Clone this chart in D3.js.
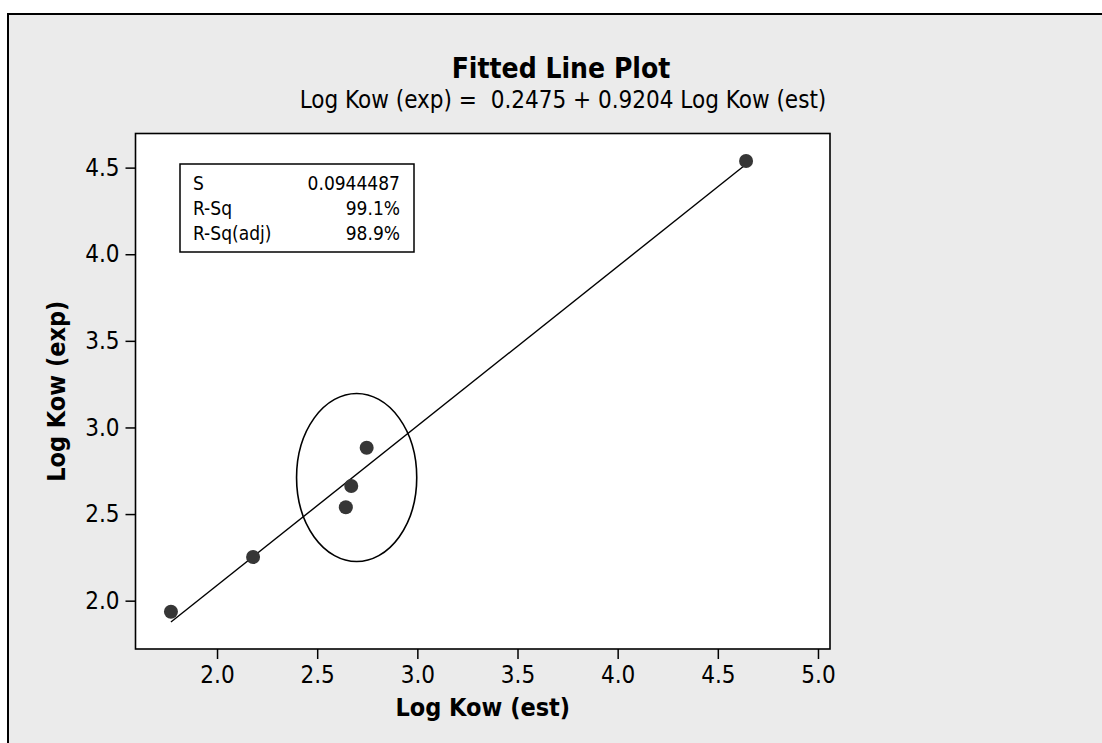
<!DOCTYPE html>
<html>
<head>
<meta charset="utf-8">
<script src="https://cdn.jsdelivr.net/npm/d3@7"></script>
<style>
  html, body { margin: 0; padding: 0; background: #fff; }
  svg { display: block; font-family: "Tahoma", "DejaVu Sans Condensed", "DejaVu Sans", sans-serif; }
</style>
</head>
<body>
<div id="chart_div"></div>
<script>
// data
var xEst = [1.77, 2.18, 2.643, 2.670, 2.747, 4.641];
var yExp = [1.936, 2.252, 2.539, 2.662, 2.883, 4.538];
var xTicks = [2.0, 2.5, 3.0, 3.5, 4.0, 4.5, 5.0];
var yTicks = [2.0, 2.5, 3.0, 3.5, 4.0, 4.5];
var fitIntercept = 0.2475;
var fitSlope = 0.9204;
var statLabels = ["S", "R-Sq", "R-Sq(adj)"];
var statValues = ["0.0944487", "99.1%", "98.9%"];
// circled group (centre and radii in data units)
var ringCentre = [2.697, 2.711];
var ringRadius = [0.3, 0.485];

var width = 1102, height = 743;

var svg = d3.select("#chart_div")
    .append("svg")
    .attr("width", width)
    .attr("height", height)
    .attr("viewBox", [0, 0, width, height]);

// gray panel with border
svg.append("rect")
    .attr("x", 8).attr("y", 14)
    .attr("width", width + 20).attr("height", height + 20)
    .attr("fill", "#ebebeb")
    .attr("stroke", "#000")
    .attr("stroke-width", 2);

// plot region
var x = d3.scaleLinear().domain([1.593, 5.06]).range([135.5, 830]);
var y = d3.scaleLinear().domain([1.721, 4.697]).range([649, 133.5]);

svg.append("rect")
    .attr("x", x.range()[0]).attr("y", y.range()[1])
    .attr("width", x.range()[1] - x.range()[0])
    .attr("height", y.range()[0] - y.range()[1])
    .attr("fill", "#fff")
    .attr("stroke", "#000")
    .attr("stroke-width", 1.6);

// axes
var fmt = d3.format(".1f");

function styleAxis(g) {
    g.attr("font-family", null).attr("font-size", null);
    g.select(".domain").remove();
    g.selectAll(".tick line").attr("stroke-width", 1.5);
    g.selectAll(".tick text").attr("fill", "#000").style("font-size", "24px");
}

svg.append("g")
    .attr("transform", `translate(0,${y.range()[0]})`)
    .call(d3.axisBottom(x).tickValues(xTicks).tickFormat(fmt).tickSize(10).tickSizeOuter(0).tickPadding(7))
    .call(styleAxis);

svg.append("g")
    .attr("transform", `translate(${x.range()[0]},0)`)
    .call(d3.axisLeft(y).tickValues(yTicks).tickFormat(fmt).tickSize(10).tickSizeOuter(0).tickPadding(6))
    .call(styleAxis);

// titles
svg.append("text")
    .attr("x", 561).attr("y", 78)
    .attr("text-anchor", "middle")
    .style("font-size", "28px")
    .style("font-weight", "bold")
    .text("Fitted Line Plot");

svg.append("text")
    .attr("x", 563).attr("y", 108)
    .attr("text-anchor", "middle")
    .style("font-size", "24px")
    .attr("xml:space", "preserve")
    .text("Log Kow (exp) =  0.2475 + 0.9204 Log Kow (est)");

svg.append("text")
    .attr("x", (x.range()[0] + x.range()[1]) / 2).attr("y", 716)
    .attr("text-anchor", "middle")
    .style("font-size", "25px")
    .style("font-weight", "bold")
    .text("Log Kow (est)");

svg.append("text")
    .attr("transform", `translate(65,${(y.range()[0] + y.range()[1]) / 2}) rotate(-90)`)
    .attr("text-anchor", "middle")
    .style("font-size", "25px")
    .style("font-weight", "bold")
    .text("Log Kow (exp)");

// fitted line
var xMin = d3.min(xEst), xMax = d3.max(xEst);
var fitPts = [xMin, xMax].map(v => [x(v), y(fitIntercept + fitSlope * v)]);
svg.append("path")
    .attr("d", d3.line()(fitPts))
    .attr("fill", "none")
    .attr("stroke", "#000")
    .attr("stroke-width", 1.4);

// points
svg.append("g")
    .selectAll("circle")
    .data(d3.zip(xEst, yExp))
    .join("circle")
    .attr("cx", d => x(d[0]))
    .attr("cy", d => y(d[1]))
    .attr("r", 7)
    .attr("fill", "#363636");

// ellipse round the middle group
svg.append("ellipse")
    .attr("cx", x(ringCentre[0]))
    .attr("cy", y(ringCentre[1]))
    .attr("rx", x(ringCentre[0] + ringRadius[0]) - x(ringCentre[0]))
    .attr("ry", y(ringCentre[1]) - y(ringCentre[1] + ringRadius[1]))
    .attr("fill", "none")
    .attr("stroke", "#000")
    .attr("stroke-width", 1.6);

// stats box
var box = svg.append("g");
box.append("rect")
    .attr("x", 180).attr("y", 164)
    .attr("width", 234).attr("height", 88)
    .attr("fill", "#fff")
    .attr("stroke", "#000")
    .attr("stroke-width", 1.5);

box.selectAll("text.lab")
    .data(statLabels)
    .join("text")
    .attr("class", "lab")
    .attr("x", 193)
    .attr("y", (d, i) => 190 + i * 25)
    .style("font-size", "19px")
    .text(d => d);

box.selectAll("text.val")
    .data(statValues)
    .join("text")
    .attr("class", "val")
    .attr("x", 400)
    .attr("y", (d, i) => 190 + i * 25)
    .attr("text-anchor", "end")
    .style("font-size", "19px")
    .text(d => d);
</script>
</body>
</html>
